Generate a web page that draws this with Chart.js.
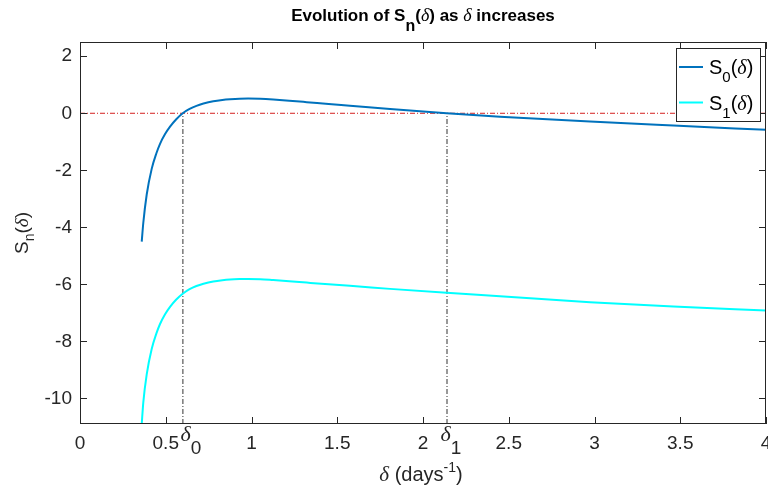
<!DOCTYPE html>
<html><head><meta charset="utf-8">
<script src="https://cdn.jsdelivr.net/npm/chart.js@4.4.0/dist/chart.umd.min.js"></script>
<style>html,body{margin:0;padding:0;background:#fff;}</style>
</head><body>
<canvas id="c" width="768" height="487"></canvas>
<script>
// ---- data ----
const delta = [0.360,0.369,0.389,0.418,0.445,0.466,0.496,0.525,0.560,0.599,0.639,0.679,0.720,0.777,0.830,0.875,0.930,0.980,1.050,1.127,1.220,1.322,1.450,1.574,1.808,2.138,2.449,2.974,3.460,4.000];
const valuesS0 = [-4.50,-3.85,-2.85,-1.95,-1.41,-1.08,-0.73,-0.47,-0.22,0.00,0.15,0.26,0.34,0.42,0.465,0.49,0.51,0.515,0.505,0.48,0.44,0.39,0.325,0.265,0.15,0.00,-0.12,-0.29,-0.43,-0.58];
const valuesS1 = [-10.9,-10.15,-9.16,-8.27,-7.73,-7.40,-7.05,-6.79,-6.54,-6.33,-6.17,-6.06,-5.98,-5.90,-5.855,-5.83,-5.815,-5.81,-5.82,-5.85,-5.89,-5.94,-6.00,-6.05,-6.16,-6.30,-6.42,-6.63,-6.78,-6.92];
const xTicks = [0,0.5,1,1.5,2,2.5,3,3.5,4];
const yTicks = [-10,-8,-6,-4,-2,0,2];
const deltaRoots = [0.6,2.14];
const rootSubs = ['0','1'];
const xRange = [0,4];
const yRange = [-10.9,2.5];
const seriesNames = ['0','1'];

const C0 = '#0072BD', C1 = '#00FFFF', AX = '#262626';
const SANS = '"Liberation Sans", Arial, sans-serif';
const SERIF = '"Liberation Serif", "DejaVu Serif", serif';
const rootLabelShift = [8,4];

function fontOf(p){return (p.italic?'italic ':'')+(p.bold?'bold ':'')+p.size+'px '+(p.serif?SERIF:SANS);}
function richText(ctx, parts, x, y, align){
  let w=0; parts.forEach(p=>{ctx.font=fontOf(p); p.w=ctx.measureText(p.t).width; w+=p.w;});
  let cx = align==='center'? x-w/2 : (align==='right'? x-w : x);
  ctx.textBaseline='alphabetic'; ctx.textAlign='left';
  parts.forEach(p=>{ctx.font=fontOf(p); ctx.fillText(p.t, cx, y+(p.dy||0)); cx+=p.w;});
}

const overlay = {
  id:'overlay',
  afterDraw(chart){
    const ctx=chart.ctx, a=chart.chartArea, xs=chart.scales.x, ys=chart.scales.y;
    ctx.save();
    ctx.strokeStyle=AX; ctx.lineWidth=1;
    ctx.strokeRect(Math.round(a.left)+0.5, Math.round(a.top)+0.5, Math.round(a.right-a.left)-1, Math.round(a.bottom-a.top)-1);
    ctx.beginPath();
    xTicks.forEach(v=>{const p=Math.round(xs.getPixelForValue(v))+0.5; ctx.moveTo(p,a.bottom); ctx.lineTo(p,a.bottom-7); ctx.moveTo(p,a.top); ctx.lineTo(p,a.top+7);});
    yTicks.forEach(v=>{const p=Math.round(ys.getPixelForValue(v))+0.5; ctx.moveTo(a.left,p); ctx.lineTo(a.left+7,p); ctx.moveTo(a.right,p); ctx.lineTo(a.right-7,p);});
    ctx.stroke();
    ctx.fillStyle='#000';
    // title
    richText(ctx,[
      {t:'Evolution of S',size:17,bold:true},
      {t:'n',size:16,bold:true,dy:10},
      {t:'(',size:17,bold:true},
      {t:'δ',size:18,italic:true,serif:true},
      {t:') as ',size:17,bold:true},
      {t:'δ',size:18,italic:true,serif:true},
      {t:' increases',size:17,bold:true}
    ], (a.left+a.right)/2, 21, 'center');
    ctx.fillStyle=AX;
    // x label
    richText(ctx,[
      {t:'δ',size:21,italic:true,serif:true},
      {t:' (days',size:20},
      {t:'-1',size:14,dy:-9},
      {t:')',size:20}
    ], (a.left+a.right)/2 - 2, 481, 'center');
    // y label
    ctx.save(); ctx.translate(28,(a.top+a.bottom)/2); ctx.rotate(-Math.PI/2);
    richText(ctx,[
      {t:'S',size:19},{t:'n',size:14,dy:6},{t:'(',size:19},{t:'δ',size:19,italic:true,serif:true},{t:')',size:19}
    ],0,0,'center');
    ctx.restore();
    // root labels
    deltaRoots.forEach((r,i)=>{
      const p=xs.getPixelForValue(r);
      richText(ctx,[{t:'δ',size:22,italic:true,serif:true},{t:rootSubs[i],size:19,dy:13}], p+rootLabelShift[i], 441,'center');
    });
    // legend
    const lx=676.5, ly=48.5, lw=84, lh=73;
    ctx.fillStyle='#fff'; ctx.fillRect(lx,ly,lw,lh);
    ctx.strokeStyle=AX; ctx.lineWidth=1; ctx.strokeRect(lx,ly,lw,lh);
    [C0,C1].forEach((c,i)=>{
      const yy = 67 + i*35.5;
      ctx.strokeStyle=c; ctx.lineWidth=2; ctx.beginPath(); ctx.moveTo(679,yy); ctx.lineTo(703,yy); ctx.stroke();
      ctx.fillStyle='#000';
      richText(ctx,[{t:'S',size:20},{t:seriesNames[i],size:15,dy:8},{t:'(',size:20},{t:'δ',size:20,italic:true,serif:true},{t:')',size:20}],709,yy+7,'left');
    });
    ctx.restore();
  }
};

const pts=(xs,ys)=>xs.map((x,i)=>({x:x,y:ys[i]}));
const curve = {pointRadius:0,borderWidth:2,cubicInterpolationMode:'monotone',clip:0};
const refl = {borderWidth:1,borderDash:[5,2,1,2],pointRadius:0,clip:0,tension:0};
new Chart(document.getElementById('c'),{
  type:'line',
  data:{datasets:[
    Object.assign({label:'S0',data:pts(delta,valuesS0),borderColor:C0},curve),
    Object.assign({label:'S1',data:pts(delta,valuesS1),borderColor:C1},curve),
    Object.assign({label:'zero',data:[{x:xRange[0],y:0},{x:xRange[1],y:0}],borderColor:'#d42020'},refl),
    Object.assign({label:'d0',data:[{x:deltaRoots[0],y:yRange[0]},{x:deltaRoots[0],y:0}],borderColor:'#333'},refl),
    Object.assign({label:'d1',data:[{x:deltaRoots[1],y:yRange[0]},{x:deltaRoots[1],y:0}],borderColor:'#333'},refl)
  ]},
  options:{
    responsive:false, animation:false, devicePixelRatio:1,
    layout:{padding:{left:0,right:2,top:42,bottom:0}},
    plugins:{legend:{display:false},title:{display:false},tooltip:{enabled:false}},
    events:[],
    scales:{
      x:{type:'linear',min:xRange[0],max:xRange[1],
        grid:{display:false,drawTicks:false},border:{display:false},
        afterBuildTicks:s=>{s.ticks=xTicks.map(v=>({value:v}));},
        afterFit:s=>{s.height=63;s.paddingLeft=0;s.paddingRight=0;},
        ticks:{font:{family:'Liberation Sans',size:19},color:AX,padding:8,maxRotation:0,autoSkip:false,callback:v=>String(v)}},
      y:{type:'linear',min:yRange[0],max:yRange[1],
        grid:{display:false,drawTicks:false},border:{display:false},
        afterBuildTicks:s=>{s.ticks=yTicks.map(v=>({value:v}));},
        afterFit:s=>{s.width=80;s.paddingTop=0;s.paddingBottom=0;},
        ticks:{font:{family:'Liberation Sans',size:19},color:AX,padding:8,autoSkip:false,callback:v=>String(v)}}
    }
  },
  plugins:[overlay]
});
</script>
</body></html>
